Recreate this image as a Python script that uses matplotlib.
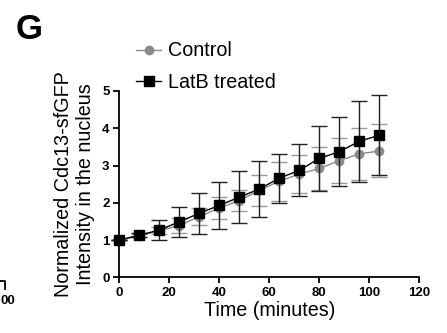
import matplotlib
matplotlib.use("Agg")
import matplotlib.pyplot as plt
from matplotlib.lines import Line2D

plt.rcParams['font.family'] = ['Liberation Sans', 'DejaVu Sans']

# Time points (minutes)
time_min = [0, 8, 16, 24, 32, 40, 48, 56, 64, 72, 80, 88, 96, 104]

# Control: mean and SD
control_mean = [1.00, 1.12, 1.25, 1.39, 1.63, 1.86, 2.06, 2.33, 2.58, 2.77, 2.92, 3.13, 3.31, 3.39]
control_sd = [0.0, 0.05, 0.10, 0.19, 0.22, 0.29, 0.27, 0.41, 0.52, 0.50, 0.58, 0.61, 0.69, 0.71]

# LatB treated: mean and SD
latb_mean = [1.00, 1.13, 1.27, 1.49, 1.72, 1.93, 2.15, 2.37, 2.66, 2.87, 3.19, 3.37, 3.65, 3.81]
latb_sd = [0.0, 0.05, 0.27, 0.41, 0.55, 0.64, 0.69, 0.76, 0.66, 0.70, 0.88, 0.92, 1.09, 1.07]

series_labels = ["Control", "LatB treated"]
x_ticks = [0, 20, 40, 60, 80, 100, 120]
y_ticks = [0, 1, 2, 3, 4, 5]

fig = plt.figure(figsize=(4.47, 3.33), dpi=100)
ax = fig.add_axes([0.267, 0.167, 0.671, 0.560])

gray = "#8a8a8a"
ax.errorbar(time_min, control_mean, yerr=control_sd, color=gray, ecolor="#9a9a9a",
            marker="o", markersize=6, lw=1.0, elinewidth=1.0, capsize=5.5,
            capthick=1.0, zorder=2, clip_on=False)
ax.errorbar(time_min, latb_mean, yerr=latb_sd, color="black", ecolor="#222222",
            marker="s", markersize=7, lw=1.0, elinewidth=1.0, capsize=5.5,
            capthick=1.0, zorder=3, clip_on=False)

ax.set_xlim(0, 120)
ax.set_ylim(0, 5)
ax.set_xticks(x_ticks)
ax.set_yticks(y_ticks)
for s in ("top", "right"):
    ax.spines[s].set_visible(False)
for s in ("left", "bottom"):
    ax.spines[s].set_linewidth(1.3)
ax.tick_params(axis="both", direction="out", length=4.5, width=1.3, pad=2.5,
               labelsize=9.5)
for lab in ax.get_xticklabels() + ax.get_yticklabels():
    lab.set_fontweight("bold")

ax.set_xlabel("Time (minutes)", fontsize=14.2, labelpad=1)
ax.set_ylabel("Normalized Cdc13-sfGFP\nIntensity in the nucleus", fontsize=14.2,
              labelpad=5, linespacing=1.2)

# Legend
handles = [
    Line2D([0], [0], color=gray, marker="o", markersize=6, lw=1.0),
    Line2D([0], [0], color="black", marker="s", markersize=7, lw=1.0),
]
fig.legend(handles, series_labels, loc="upper left", bbox_to_anchor=(0.283, 0.905),
           frameon=False, fontsize=14.2, handlelength=1.25, handletextpad=0.35,
           labelspacing=0.62, borderpad=0)

# Panel letter
fig.text(0.036, 0.96, "G", fontsize=25, fontweight="bold", va="top", ha="left")

# Edge of the neighbouring panel
fig.text(0.002, 0.097, "00", fontsize=9.5, fontweight="bold", va="center", ha="left")
fig.add_artist(Line2D([0.0, 0.011, 0.011], [0.155, 0.155, 0.133],
                      transform=fig.transFigure, color="black", lw=1.3))

fig.savefig("out.png", dpi=100)
